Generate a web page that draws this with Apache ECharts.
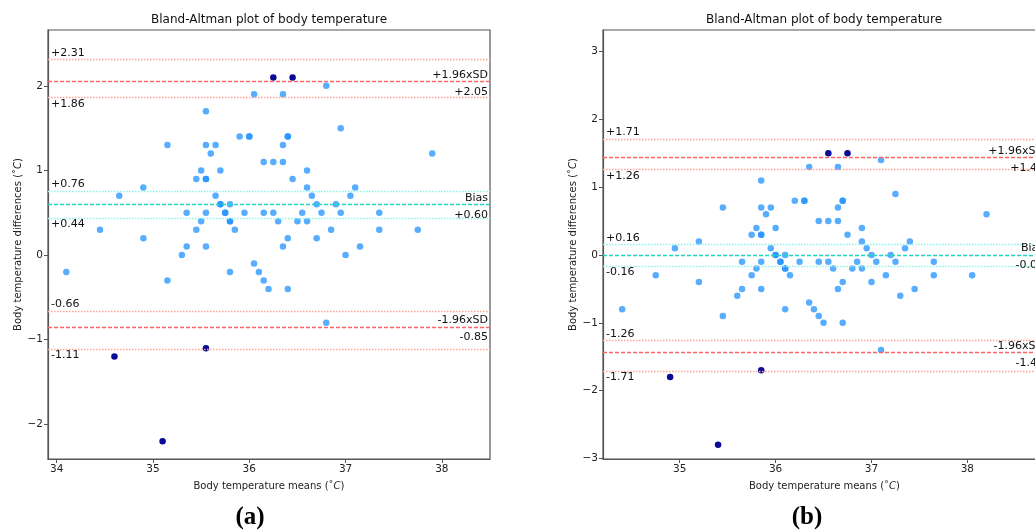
<!DOCTYPE html>
<html>
<head>
<meta charset="utf-8">
<script src="https://cdn.jsdelivr.net/npm/echarts@6/dist/echarts.min.js"></script>
<style>
html,body{margin:0;padding:0;background:#fff;}
#chart{width:1035px;height:532px;}
</style>
</head>
<body>
<div id="chart"></div>
<script>
// ---------- Data: panel (a) ----------
var aMeans = [36.95,35.9,36.0,36.0,36.4,36.4,35.15,35.55,35.65,36.35,35.6,37.9,36.15,36.25,36.35,35.5,35.7,36.6,35.45,35.55,35.55,36.45,34.9,36.6,37.1,34.65,35.65,36.65,37.05,35.7,35.7,35.8,36.7,36.9,35.35,35.55,35.75,35.75,35.95,36.15,36.25,36.55,36.75,36.95,37.35,35.5,35.8,35.8,36.3,36.5,36.6,34.45,35.45,35.85,36.85,37.35,37.75,34.9,36.4,36.7,35.35,35.55,36.35,37.15,35.3,37.0,36.05,34.1,35.8,36.1,35.15,36.15,36.2,36.4,36.8,36.8,36.05,36.35,35.55];
var aDiffs = [1.5,1.4,1.4,1.4,1.4,1.4,1.3,1.3,1.3,1.3,1.2,1.2,1.1,1.1,1.1,1.0,1.0,1.0,0.9,0.9,0.9,0.9,0.8,0.8,0.8,0.7,0.7,0.7,0.7,0.6,0.6,0.6,0.6,0.6,0.5,0.5,0.5,0.5,0.5,0.5,0.5,0.5,0.5,0.5,0.5,0.4,0.4,0.4,0.4,0.4,0.4,0.3,0.3,0.3,0.3,0.3,0.3,0.2,0.2,0.2,0.1,0.1,0.1,0.1,0.0,0.0,-0.1,-0.2,-0.2,-0.2,-0.3,-0.3,-0.4,-0.4,-0.8,2.0,1.9,1.9,1.7];
var aOutMeans = [36.25,36.45,34.6,35.55,35.1];
var aOutDiffs = [2.1,2.1,-1.2,-1.1,-2.2];
var aUpper = [2.31, 2.05, 1.86];
var aBias  = [0.76, 0.60, 0.44];
var aLower = [-0.66, -0.85, -1.11];
var aXTicks = [34, 35, 36, 37, 38];
var aYTicks = [-2, -1, 0, 1, 2];

// ---------- Data: panel (b) ----------
var bMeans = [36.35,36.65,37.1,35.85,37.25,36.2,36.3,36.3,36.7,36.7,35.45,35.85,35.95,36.65,35.9,38.2,36.45,36.55,36.65,35.8,36.0,36.9,35.75,35.85,35.85,36.75,35.2,36.9,37.4,34.95,35.95,36.95,37.35,36.0,36.0,36.1,37.0,37.2,35.65,35.85,36.05,36.05,36.25,36.45,36.55,36.85,37.05,37.25,37.65,35.8,36.1,36.1,36.6,36.8,36.9,34.75,35.75,36.15,37.15,37.65,38.05,35.2,36.7,37.0,35.65,35.85,36.65,37.45,35.6,37.3,36.35,36.4,36.1,34.4,36.45,35.45,36.5,36.7,37.1];
var bDiffs = [1.3,1.3,1.4,1.1,0.9,0.8,0.8,0.8,0.8,0.8,0.7,0.7,0.7,0.7,0.6,0.6,0.5,0.5,0.5,0.4,0.4,0.4,0.3,0.3,0.3,0.3,0.2,0.2,0.2,0.1,0.1,0.1,0.1,0.0,0.0,0.0,0.0,0.0,-0.1,-0.1,-0.1,-0.1,-0.1,-0.1,-0.1,-0.1,-0.1,-0.1,-0.1,-0.2,-0.2,-0.2,-0.2,-0.2,-0.2,-0.3,-0.3,-0.3,-0.3,-0.3,-0.3,-0.4,-0.4,-0.4,-0.5,-0.5,-0.5,-0.5,-0.6,-0.6,-0.7,-0.8,-0.8,-0.8,-0.9,-0.9,-1.0,-1.0,-1.4];
var bOutMeans = [36.55,36.75,34.9,35.85,35.4];
var bOutDiffs = [1.5,1.5,-1.8,-1.7,-2.8];
var bUpper = [1.71, 1.44, 1.26];
var bBias  = [0.16, -0.004, -0.16];
var bLower = [-1.26, -1.44, -1.71];
var bXTicks = [35, 36, 37, 38];
var bYTicks = [-3, -2, -1, 0, 1, 2, 3];

var titleText = 'Bland-Altman plot of body temperature';
var xName = 'Body temperature means (\u02DA{i|C})';
var yName = 'Body temperature differences (\u02DA{i|C})';

// ---------- helpers ----------
var FONT = 'DejaVu Sans';
function zip(xs, ys){ return xs.map(function(x,i){ return [x, ys[i]]; }); }
function fmt(v){ return (v >= 0 ? '+' : '') + v.toFixed(2); }
function tickFmt(v){ return v < 0 ? '\u2212' + Math.abs(v) : String(v); }

var RED_DASH = '#ff6464', RED_DOT = '#ffa593';
var CY_DASH = '#1ed8c2', CY_DOT = '#8ef2e8';

function lineItem(v, text, pos, color, type, dist, hidden){
  return {
    yAxis: v,
    lineStyle: {color: hidden ? 'rgba(0,0,0,0)' : color, type: type, width: hidden ? 0 : 1.3},
    label: {show: true, formatter: text, position: pos, distance: dist,
            color: '#111', fontFamily: FONT, fontSize: 11}
  };
}
function group(vals, name, dashColor, dotColor){
  return [
    lineItem(vals[0], fmt(vals[0]), 'insideStartTop', dotColor, [1.5,1.5], [3, 1]),
    lineItem(vals[1], name, 'insideEndTop', dashColor, [4,2], [2, 1]),
    lineItem(vals[1], fmt(vals[1]), 'insideEndBottom', dashColor, [4,2], [2, 5], true),
    lineItem(vals[2], fmt(vals[2]), 'insideStartBottom', dotColor, [1.5,1.5], [3, 1])
  ];
}
function markLines(up, bias, lo){
  return {
    silent: true, symbol: 'none', animation: false,
    label: {show: true},
    labelLayout: {hideOverlap: false},
    data: [].concat(group(up, '+1.96xSD', RED_DASH, RED_DOT),
                    group(bias, 'Bias', CY_DASH, CY_DOT),
                    group(lo, '-1.96xSD', RED_DASH, RED_DOT))
  };
}
function nameStyle(){
  return {fontFamily: FONT, fontSize: 10, color: '#222',
    rich: {i: {fontFamily: FONT, fontSize: 10, fontStyle: 'italic', color: '#222'}}};
}
function xAxis(idx, min, max, ticks){
  return {
    type: 'value', gridIndex: idx, min: min, max: max,
    name: xName, nameLocation: 'middle', nameGap: 22, nameTextStyle: nameStyle(),
    axisLine: {show: true, onZero: false, lineStyle: {color: '#555', width: 1.2}},
    axisTick: {show: true, length: 4, customValues: ticks, lineStyle: {color: '#555'}},
    axisLabel: {customValues: ticks, margin: 5, fontFamily: FONT, fontSize: 10.5, color: '#222'},
    splitLine: {show: false}
  };
}
function yAxis(idx, min, max, ticks, gap){
  return {
    type: 'value', gridIndex: idx, min: min, max: max,
    name: yName, nameLocation: 'middle', nameGap: gap, nameTextStyle: nameStyle(),
    axisLine: {show: true, onZero: false, lineStyle: {color: '#555', width: 1.2}},
    axisTick: {show: true, length: 4, customValues: ticks, lineStyle: {color: '#555'}},
    axisLabel: {customValues: ticks, margin: 5, fontFamily: FONT, fontSize: 10.5, color: '#222',
      formatter: tickFmt},
    splitLine: {show: false}
  };
}
var LIGHT = 'rgba(30,144,255,0.74)', NAVY = '#0a0a96';

var option = {
  backgroundColor: '#fff',
  animation: false,
  grid: [
    {left: 48, top: 30, width: 442, height: 429, show: true, borderColor: '#555', borderWidth: 1.2,
     backgroundColor: 'transparent', outerBoundsMode: 'none', containLabel: false},
    {left: 603, top: 30, width: 443, height: 429, show: true, borderColor: '#555', borderWidth: 1.2,
     backgroundColor: 'transparent', outerBoundsMode: 'none', containLabel: false}
  ],
  xAxis: [xAxis(0, 33.91, 38.50, aXTicks), xAxis(1, 34.20, 38.82, bXTicks)],
  yAxis: [yAxis(0, -2.41, 2.66, aYTicks, 25), yAxis(1, -3.01, 3.32, bYTicks, 22)],
  graphic: [
    {type: 'text', style: {text: titleText, x: 269, y: 20, textAlign: 'center', textVerticalAlign: 'middle', font: '12px "DejaVu Sans"', fill: '#111'}},
    {type: 'text', style: {text: titleText, x: 824, y: 20, textAlign: 'center', textVerticalAlign: 'middle', font: '12px "DejaVu Sans"', fill: '#111'}},
    {type: 'text', style: {text: '(a)', x: 250, y: 518, textAlign: 'center', textVerticalAlign: 'middle', font: 'bold 25px "Liberation Serif"', fill: '#000'}},
    {type: 'text', style: {text: '(b)', x: 807, y: 518, textAlign: 'center', textVerticalAlign: 'middle', font: 'bold 25px "Liberation Serif"', fill: '#000'}}
  ],
  series: [
    {type: 'scatter', xAxisIndex: 0, yAxisIndex: 0, symbolSize: 6.5, data: zip(aMeans, aDiffs),
     itemStyle: {color: LIGHT, opacity: 1}, markLine: markLines(aUpper, aBias, aLower), z: 3},
    {type: 'scatter', xAxisIndex: 0, yAxisIndex: 0, symbolSize: 6.5, data: zip(aOutMeans, aOutDiffs),
     itemStyle: {color: NAVY, opacity: 1}, z: 4},
    {type: 'scatter', xAxisIndex: 1, yAxisIndex: 1, symbolSize: 6.5, data: zip(bMeans, bDiffs),
     itemStyle: {color: LIGHT, opacity: 1}, markLine: markLines(bUpper, bBias, bLower), z: 3},
    {type: 'scatter', xAxisIndex: 1, yAxisIndex: 1, symbolSize: 6.5, data: zip(bOutMeans, bOutDiffs),
     itemStyle: {color: NAVY, opacity: 1}, z: 4}
  ]
};
var chart = echarts.init(document.getElementById('chart'), null, {renderer: 'canvas'});
chart.setOption(option);
</script>
</body>
</html>
